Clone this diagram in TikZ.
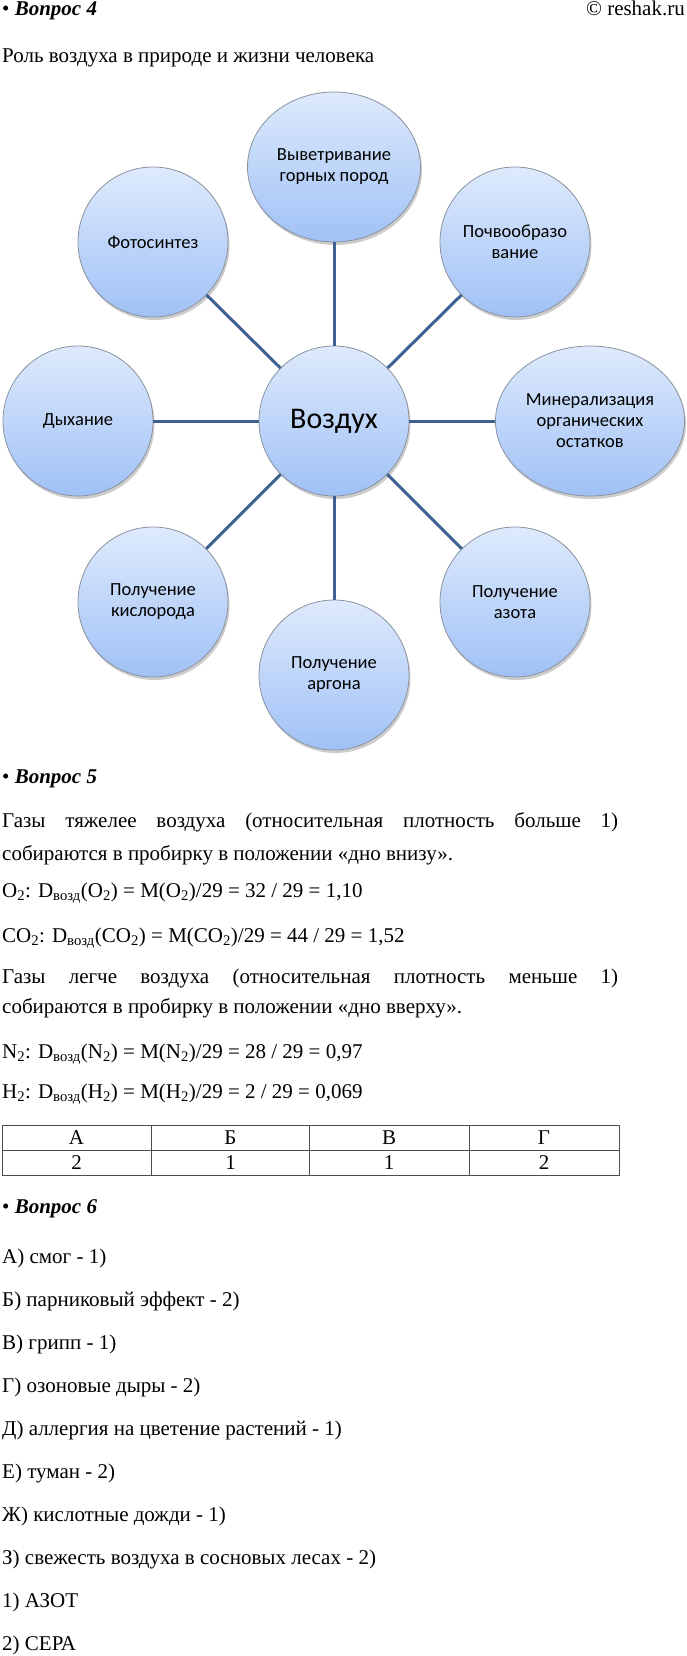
\documentclass[tikz,border=0pt]{standalone}
\usepackage{fontspec}
\setmainfont{Liberation Serif}
\newfontfamily\bubblefont{Carlito}
\usetikzlibrary{shapes.geometric,shadows}
\tikzset{>=stealth}
\setlength\parindent{0pt}
\definecolor{bubtop}{RGB}{222,234,252}
\definecolor{bubbot}{RGB}{160,193,246}
\definecolor{bubedge}{RGB}{138,146,158}
\definecolor{spokeblue}{RGB}{62,97,146}
\tikzset{
  bubble/.style={ellipse,draw=bubedge,line width=.8pt,top color=bubtop,bottom color=bubbot,
    inner sep=0pt,align=center,minimum width=150pt,minimum height=150pt,
    font=\bubblefont\fontsize{18.5}{21}\selectfont,
    drop shadow={shadow xshift=1.5pt,shadow yshift=-3pt,opacity=.4}},
  spoke/.style={draw=spokeblue,line width=3pt},
  txt/.style={anchor=base west,inner sep=0pt,font=\fontsize{21}{25}\selectfont},
  cell/.style={draw=black!70,line width=.9pt}
}

\begin{document}
\begin{tikzpicture}[x=1pt,y=-1pt]
\useasboundingbox (0,0) rectangle (686,1656);
\node[bubble,font=\bubblefont\fontsize{30}{32}\selectfont] (air) at (334,421) {Воздух};
\node[bubble,minimum width=173pt] (rock) at (334,167) {Выветривание\\горных пород};
\node[bubble] (photo) at (153,242) {Фотосинтез};
\node[bubble] (soil) at (515,242) {Почвообразо\\вание};
\node[bubble] (breath) at (78,421) {Дыхание};
\node[bubble,minimum width=189pt] (mineral) at (590,421) {Минерализация\\органических\\остатков};
\node[bubble] (oxy) at (153,602) {Получение\\кислорода};
\node[bubble] (nitro) at (515,602) {Получение\\азота};
\node[bubble] (argon) at (334,675) {Получение\\аргона};
\foreach \n in {rock,photo,soil,breath,mineral,oxy,nitro,argon}
  \draw[spoke] (air) -- (\n);

\node[txt] (q4) at (2,16) {• \textbf{\textit{Вопрос 4}}};
\node[txt,anchor=base east] (site) at (685,16) {© reshak.ru};
\node[txt] (title) at (2,63) {Роль воздуха в природе и жизни человека};

\node[txt] (q5) at (2,783) {• \textbf{\textit{Вопрос 5}}};
\node[txt] (heavy1) at (2,827) {\makebox[616pt][s]{Газы тяжелее воздуха (относительная плотность больше 1)}};
\node[txt] (heavy2) at (2,860) {собираются в пробирку в положении «дно внизу».};
\node[txt] (o2) at (2,897) {O\textsubscript{2}: D\textsubscript{возд}(O\textsubscript{2}) = M(O\textsubscript{2})/29 = 32 / 29 = 1,10};
\node[txt] (co2) at (2,942) {CO\textsubscript{2}: D\textsubscript{возд}(CO\textsubscript{2}) = M(CO\textsubscript{2})/29 = 44 / 29 = 1,52};
\node[txt] (light1) at (2,983) {\makebox[616pt][s]{Газы легче воздуха (относительная плотность меньше 1)}};
\node[txt] (light2) at (2,1013) {собираются в пробирку в положении «дно вверху».};
\node[txt] (n2) at (2,1058) {N\textsubscript{2}: D\textsubscript{возд}(N\textsubscript{2}) = M(N\textsubscript{2})/29 = 28 / 29 = 0,97};
\node[txt] (h2) at (2,1098) {H\textsubscript{2}: D\textsubscript{возд}(H\textsubscript{2}) = M(H\textsubscript{2})/29 = 2 / 29 = 0,069};

\draw[cell] (2,1125) rectangle (619,1175);
\draw[cell] (2,1150) -- (619,1150);
\foreach \x in {151.5,309.5,469} \draw[cell] (\x,1125) -- (\x,1175);
\foreach \x/\h/\v [count=\i] in {76.5/А/2,230.5/Б/1,389/В/1,544/Г/2} {
  \node[txt,anchor=base] (head\i) at (\x,1144) {\h};
  \node[txt,anchor=base] (val\i) at (\x,1169) {\v};
}

\node[txt] (q6) at (2,1213) {• \textbf{\textit{Вопрос 6}}};
\foreach \t [count=\i] in {{А) смог - 1)},{Б) парниковый эффект - 2)},{В) грипп - 1)},
  {Г) озоновые дыры - 2)},{Д) аллергия на цветение растений - 1)},{Е) туман - 2)},
  {Ж) кислотные дожди - 1)},{З) свежесть воздуха в сосновых лесах - 2)},{1) АЗОТ},{2) СЕРА}}
  \node[txt] (ans\i) at (2,1263+43.1*\i-43.1) {\t};
\end{tikzpicture}
\end{document}
